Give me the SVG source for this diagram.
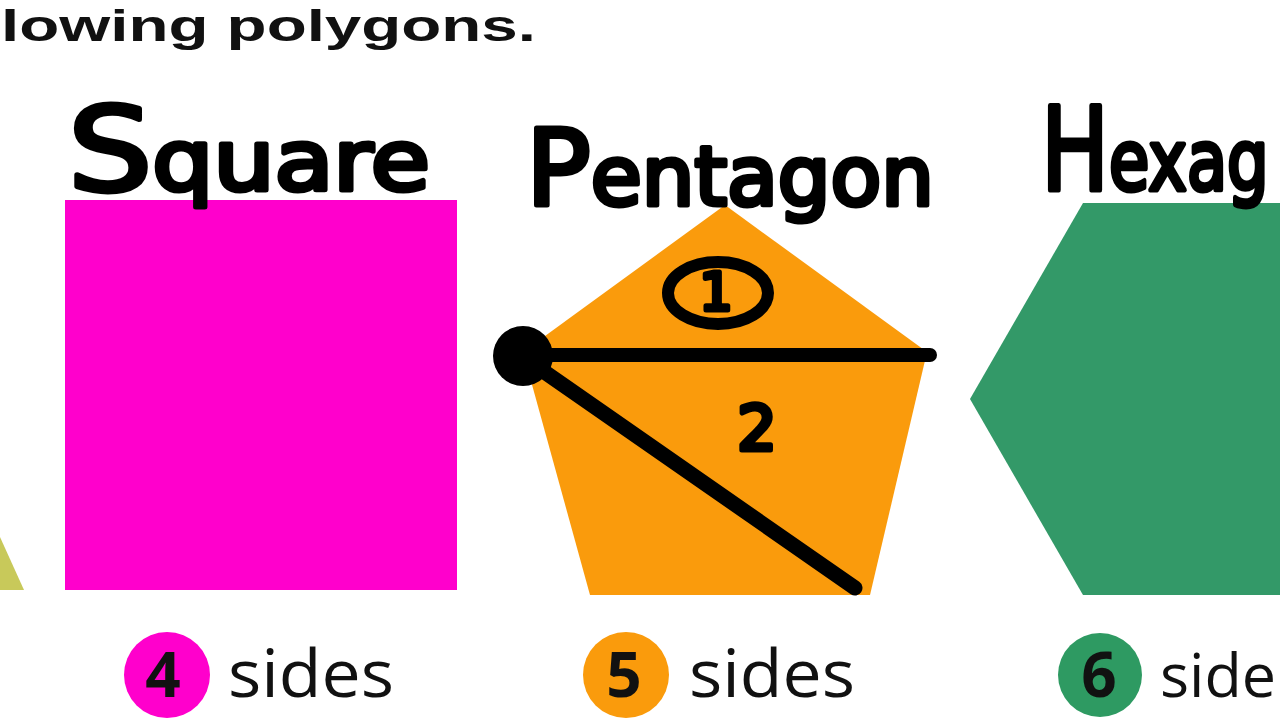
<svg xmlns="http://www.w3.org/2000/svg" width="1280" height="720" viewBox="0 0 1280 720">
  <style>
    .print { font-family: "Open Sans", "Noto Sans", "Liberation Sans", sans-serif; fill: #111111; }
    .head { font-family: "Liberation Sans", "Open Sans", sans-serif; font-weight: bold; fill: #111111; }
    .hand { font-family: "DejaVu Sans", "Liberation Sans", sans-serif; fill: #000000; stroke: #000000; stroke-width: 5; stroke-linejoin: round; stroke-linecap: round; }
    .ink { fill: none; stroke: #000000; stroke-linecap: round; stroke-linejoin: round; }
    .num { font-family: "Open Sans", "Noto Sans", "Liberation Sans", sans-serif; font-weight: bold; fill: #111111; text-anchor: middle; }
  </style>
  <rect width="1280" height="720" fill="#ffffff"/>

  <text class="head" x="1" y="41" font-size="45" textLength="535" lengthAdjust="spacingAndGlyphs">lowing polygons.</text>

  <g id="triangle">
    <polygon points="0,537 24,590 0,590" fill="#c8c95a"/>
  </g>

  <g id="square">
    <rect x="65" y="200" width="392" height="390" fill="#ff00cc"/>
    <text class="hand" x="68" y="190" textLength="362" lengthAdjust="spacingAndGlyphs"><tspan font-size="116">S</tspan><tspan font-size="84">quare</tspan></text>
    <circle cx="167" cy="675" r="43" fill="#ff00cc"/>
    <text class="num" x="163" y="697" font-size="62">4</text>
    <text class="print" x="228" y="697" font-size="66" textLength="166" lengthAdjust="spacingAndGlyphs">sides</text>
  </g>

  <g id="pentagon">
    <polygon points="725,205 927,352 870,595 590,595 523,352" fill="#fa9b0c"/>
    <text class="hand" x="526" y="205" textLength="408" lengthAdjust="spacingAndGlyphs"><tspan font-size="106">P</tspan><tspan font-size="82">entagon</tspan></text>
    <circle cx="626" cy="675" r="43" fill="#fa9b0c"/>
    <text class="num" x="624" y="697" font-size="62">5</text>
    <text class="print" x="689" y="697" font-size="66" textLength="166" lengthAdjust="spacingAndGlyphs">sides</text>
  </g>

  <g id="hexagon">
    <polygon points="1083,203 1290,203 1290,595 1083,595 970,399" fill="#339968"/>
    <text class="hand" transform="translate(1041,190) scale(0.78,1)" x="0" y="0"><tspan font-size="116">H</tspan><tspan font-size="84">exag</tspan></text>
    <circle cx="1100" cy="675" r="42" fill="#2e9a62"/>
    <text class="num" x="1099" y="697" font-size="62">6</text>
    <text class="print" x="1160" y="697" font-size="61">side</text>
  </g>

  <g id="connectors">
    <line class="ink" x1="523" y1="355" x2="930" y2="355" stroke-width="14"/>
    <line class="ink" x1="523" y1="357" x2="855" y2="588" stroke-width="15"/>
    <circle cx="523" cy="356" r="30" fill="#000000"/>
    <ellipse class="ink" cx="718" cy="293" rx="50" ry="31" stroke-width="12"/>
    <text class="hand" x="716" y="310" font-size="52" text-anchor="middle" stroke-width="3">1</text>
    <text class="hand" x="757" y="450" font-size="62" text-anchor="middle" stroke-width="4">2</text>
  </g>
</svg>
